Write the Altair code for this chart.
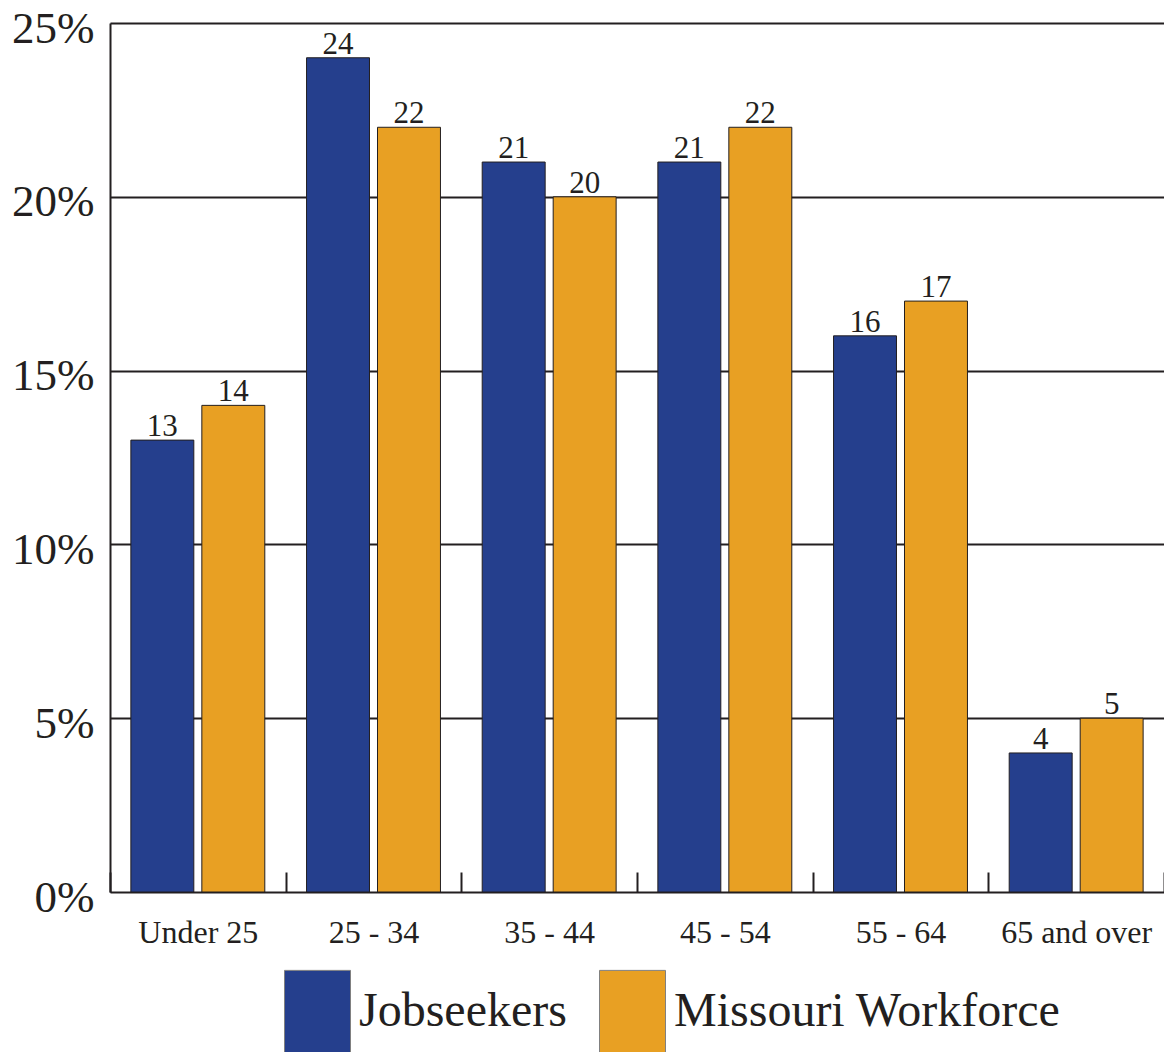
import altair as alt
import pandas as pd

categories = ["Under 25", "25 - 34", "35 - 44", "45 - 54", "55 - 64", "65 and over"]
series = ["Jobseekers", "Missouri Workforce"]
jobseekers = [13, 24, 21, 21, 16, 4]
workforce = [14, 22, 20, 22, 17, 5]
y_ticks = [0, 5, 10, 15, 20, 25]
colors = ["#253F8D", "#E8A023"]

rows = []
for c, a, b in zip(categories, jobseekers, workforce):
    rows.append({"cat": c, "series": series[0], "value": a})
    rows.append({"cat": c, "series": series[1], "value": b})
df = pd.DataFrame(rows)

FONT = "Liberation Serif"

x = alt.X("cat:N", sort=categories, title=None,
          scale=alt.Scale(paddingInner=0, paddingOuter=0),
          axis=alt.Axis(labelAngle=0, labelFont=FONT, labelFontSize=32, labelColor="#231F20",
                        labelPadding=25, domain=False, ticks=True, tickBand="extent",
                        tickSize=20, tickWidth=2, tickColor="#231F20", offset=-20, grid=False))
xo = alt.XOffset("series:N", sort=series,
                 scale=alt.Scale(paddingInner=0.113, paddingOuter=0.294))
y = alt.Y("value:Q", title=None,
          scale=alt.Scale(domain=[0, 25], nice=False),
          axis=alt.Axis(values=y_ticks, labelExpr="datum.value + '%'", labelFont=FONT,
                        labelFontSize=45, labelColor="#231F20", labelPadding=16, ticks=False,
                        domainColor="#231F20", domainWidth=2, gridColor="#231F20",
                        gridWidth=2, gridOpacity=1, labelBaseline="middle", labelOffset=5))

bars = alt.Chart(df).mark_bar(stroke="#231F20", strokeWidth=1).encode(
    x=x, xOffset=xo, y=y,
    color=alt.Color("series:N", sort=series, title=None,
                    scale=alt.Scale(domain=series, range=colors),
                    legend=alt.Legend(orient="none", legendX=174, legendY=955,
                                      direction="horizontal",
                                      symbolType="M-1,-1.25H1V1.25H-1Z", symbolSize=4356,
                                      symbolStrokeColor="#808080", symbolStrokeWidth=1,
                                      symbolOpacity=1,
                                      labelFont=FONT, labelFontSize=48, labelColor="#231F20",
                                      labelOffset=8, columnPadding=30, labelLimit=600)),
)

labels = alt.Chart(df).mark_text(font=FONT, fontSize=31, color="#231F20",
                                 baseline="alphabetic", dy=-4).encode(
    x=alt.X("cat:N", sort=categories), xOffset=xo, y="value:Q", text="value:Q")

chart = alt.layer(bars, labels).properties(
    width=1054, height=869,
    autosize=alt.AutoSizeParams(type="none"),
    padding={"left": 110, "top": 23, "right": 0, "bottom": 160},
).configure_view(stroke=None).configure(background="white")

chart.save("out.html", embed_options={"renderer": "svg", "actions": False})
